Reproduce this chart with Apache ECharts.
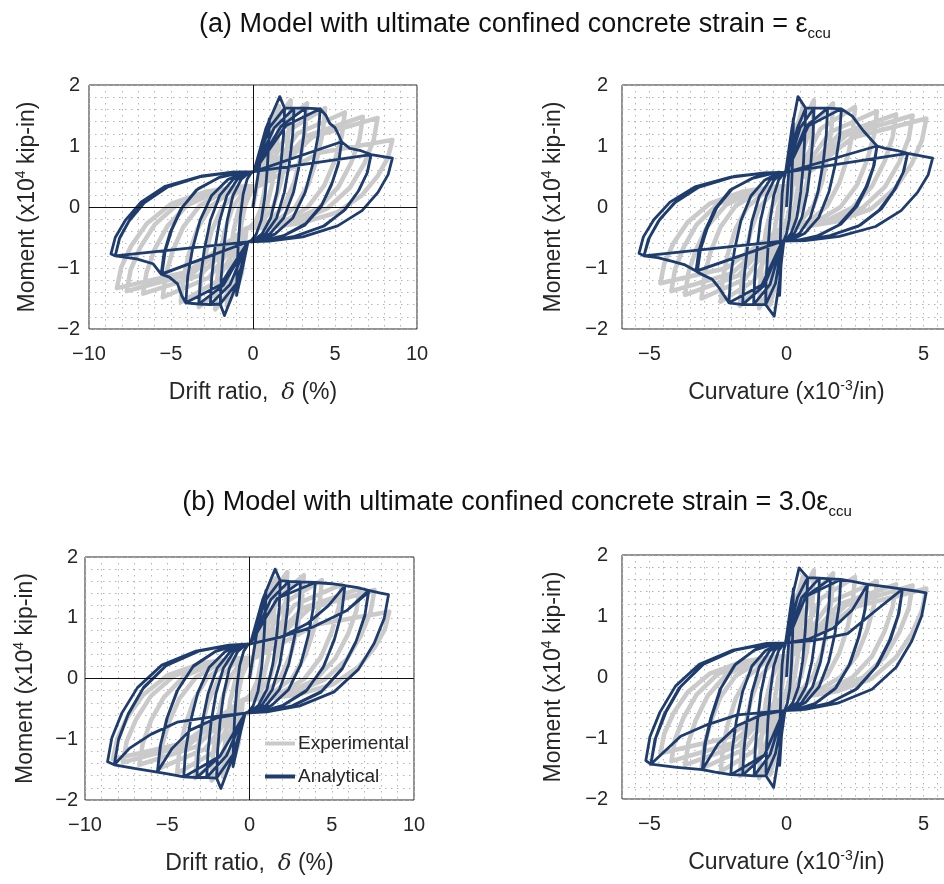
<!DOCTYPE html>
<html>
<head>
<meta charset="utf-8">
<script src="https://cdn.jsdelivr.net/npm/echarts@6/dist/echarts.min.js"></script>
<style>html,body{margin:0;background:#fff}#main{width:944px;height:884px}</style>
</head>
<body>
<div id="main"></div>
<script>
// tick labels
var driftTicks = [-10, -5, 0, 5, 10];
var curvTicks = [-5, 0, 5];
var momentTicks = [-2, -1, 0, 1, 2];

// experimental loops (same specimen in (a) and (b)) : [drift or curvature, moment]
var expDrift = [[0,0],[0.5,0.75],
[1.0,1.35],[0.96,1.01],[0.86,0.65],[0.71,0.28],[0.47,-0.04],[0.13,-0.25],[-0.19,-0.33],[-0.4,-0.35],
[-0.67,-1.07],[-1.0,-1.35],[-0.96,-1.01],[-0.86,-0.65],[-0.71,-0.28],[-0.47,0.04],[-0.13,0.25],[0.19,0.33],[0.4,0.35],
[0.94,1.29],[1.6,1.65],[1.54,1.25],[1.4,0.83],[1.18,0.39],[0.84,0.01],[0.36,-0.23],[-0.1,-0.33],[-0.4,-0.35],
[-0.94,-1.27],[-1.6,-1.62],[-1.54,-1.23],[-1.4,-0.81],[-1.18,-0.38],[-0.84,0.0],[-0.36,0.23],[0.1,0.33],[0.4,0.35],
[1.26,1.36],[2.3,1.75],[2.22,1.33],[2.03,0.89],[1.73,0.43],[1.27,0.03],[0.63,-0.22],[0.0,-0.33],[-0.4,-0.35],
[-1.26,-1.31],[-2.3,-1.68],[-2.22,-1.27],[-2.03,-0.85],[-1.73,-0.4],[-1.27,-0.02],[-0.63,0.23],[0.0,0.33],[0.4,0.35],
[1.71,1.32],[3.3,1.7],[3.19,1.29],[2.93,0.86],[2.52,0.41],[1.89,0.02],[1.01,-0.23],[0.16,-0.33],[-0.4,-0.35],
[-1.71,-1.28],[-3.3,-1.64],[-3.19,-1.24],[-2.93,-0.82],[-2.52,-0.39],[-1.89,-0.01],[-1.01,0.23],[-0.16,0.33],[0.4,0.35],
[2.2,1.26],[4.4,1.62],[4.26,1.23],[3.92,0.81],[3.39,0.38],[2.58,0.0],[1.42,-0.23],[0.32,-0.33],[-0.4,-0.35],
[-2.2,-1.22],[-4.4,-1.56],[-4.26,-1.18],[-3.92,-0.78],[-3.39,-0.36],[-2.58,0.01],[-1.42,0.24],[-0.32,0.33],[0.4,0.35],
[2.74,1.21],[5.6,1.55],[5.42,1.17],[5.0,0.77],[4.34,0.35],[3.32,-0.01],[1.88,-0.24],[0.5,-0.33],[-0.4,-0.35],
[-2.7,-1.16],[-5.5,-1.48],[-5.32,-1.11],[-4.91,-0.73],[-4.26,-0.33],[-3.26,0.02],[-1.84,0.24],[-0.49,0.33],[0.4,0.35],
[3.24,1.16],[6.7,1.48],[6.49,1.11],[5.99,0.73],[5.21,0.33],[4.0,-0.02],[2.3,-0.24],[0.67,-0.33],[-0.4,-0.35],
[-3.24,-1.12],[-6.7,-1.42],[-6.49,-1.07],[-5.99,-0.69],[-5.21,-0.31],[-4.0,0.03],[-2.3,0.24],[-0.67,0.33],[0.4,0.35],
[3.64,1.15],[7.6,1.46],[7.36,1.1],[6.8,0.72],[5.92,0.32],[4.56,-0.02],[2.64,-0.24],[0.8,-0.33],[-0.4,-0.35],
[-3.69,-1.09],[-7.7,-1.38],[-7.46,-1.03],[-6.89,-0.67],[-6.0,-0.29],[-4.62,0.04],[-2.68,0.25],[-0.82,0.33],[0.4,0.35],
[4.05,0.89],[8.5,1.1],[8.23,0.81],[7.61,0.51],[6.63,0.19],[5.12,-0.09],[2.98,-0.26],[0.94,-0.34],[-0.4,-0.35],
[-3.96,-1.06],[-8.3,-1.33],[-8.04,-0.99],[-7.43,-0.64],[-6.47,-0.27],[-5.0,0.05],[-2.91,0.25],[-0.9,0.33],[0.4,0.35]];

var expCurv = [[0,0],[0.15,0.75],
[0.3,1.35],[0.29,1.01],[0.25,0.65],[0.2,0.28],[0.11,-0.04],[-0.01,-0.25],[-0.13,-0.33],[-0.2,-0.35],
[-0.25,-1.07],[-0.3,-1.35],[-0.29,-1.01],[-0.25,-0.65],[-0.2,-0.28],[-0.11,0.04],[0.01,0.25],[0.13,0.33],[0.2,0.35],
[0.38,1.29],[0.6,1.65],[0.58,1.25],[0.52,0.83],[0.43,0.39],[0.3,0.01],[0.1,-0.23],[-0.08,-0.33],[-0.2,-0.35],
[-0.38,-1.25],[-0.6,-1.6],[-0.58,-1.21],[-0.52,-0.8],[-0.43,-0.37],[-0.3,0.0],[-0.1,0.23],[0.08,0.33],[0.2,0.35],
[0.56,1.36],[1.0,1.75],[0.96,1.33],[0.88,0.89],[0.75,0.43],[0.54,0.03],[0.26,-0.22],[-0.02,-0.33],[-0.2,-0.35],
[-0.56,-1.29],[-1.0,-1.66],[-0.96,-1.26],[-0.88,-0.84],[-0.75,-0.39],[-0.54,-0.01],[-0.26,0.23],[0.02,0.33],[0.2,0.35],
[0.88,1.32],[1.7,1.7],[1.64,1.29],[1.51,0.86],[1.3,0.41],[0.98,0.02],[0.52,-0.23],[0.09,-0.33],[-0.2,-0.35],
[-0.88,-1.26],[-1.7,-1.62],[-1.64,-1.23],[-1.51,-0.81],[-1.3,-0.38],[-0.98,0.0],[-0.52,0.23],[-0.09,0.33],[0.2,0.35],
[1.24,1.28],[2.5,1.64],[2.42,1.24],[2.23,0.82],[1.93,0.4],[1.47,0.01],[0.83,-0.23],[0.2,-0.33],[-0.2,-0.35],
[-1.19,-1.21],[-2.4,-1.55],[-2.32,-1.17],[-2.14,-0.77],[-1.85,-0.35],[-1.41,0.01],[-0.79,0.24],[-0.19,0.33],[0.2,0.35],
[1.6,1.23],[3.3,1.57],[3.2,1.19],[2.95,0.78],[2.57,0.36],[1.97,0.0],[1.13,-0.23],[0.33,-0.33],[-0.2,-0.35],
[-1.51,-1.18],[-3.1,-1.5],[-3.0,-1.13],[-2.77,-0.74],[-2.41,-0.33],[-1.85,0.02],[-1.05,0.24],[-0.3,0.33],[0.2,0.35],
[1.91,1.19],[4.0,1.52],[3.87,1.15],[3.58,0.75],[3.12,0.34],[2.4,-0.01],[1.4,-0.24],[0.43,-0.33],[-0.2,-0.35],
[-1.78,-1.13],[-3.7,-1.44],[-3.58,-1.08],[-3.31,-0.71],[-2.88,-0.31],[-2.22,0.03],[-1.28,0.24],[-0.39,0.33],[0.2,0.35],
[2.18,1.18],[4.6,1.5],[4.46,1.13],[4.12,0.74],[3.59,0.33],[2.78,-0.01],[1.62,-0.24],[0.52,-0.33],[-0.2,-0.35],
[-2.0,-1.09],[-4.2,-1.38],[-4.07,-1.03],[-3.76,-0.67],[-3.28,-0.29],[-2.53,0.04],[-1.47,0.25],[-0.46,0.33],[0.2,0.35],
[2.41,1.14],[5.1,1.45],[4.94,1.09],[4.57,0.71],[3.99,0.32],[3.09,-0.03],[1.81,-0.24],[0.6,-0.33],[-0.2,-0.35],
[-2.18,-1.0],[-4.6,-1.25],[-4.46,-0.93],[-4.12,-0.59],[-3.59,-0.24],[-2.78,0.06],[-1.62,0.25],[-0.52,0.33],[0.2,0.35]];

// analytical, model (a): ultimate strain = eps_ccu
var anaDriftA = [[0,0],[0.5,0.85],
[1.0,1.45],[0.96,1.05],[0.87,0.62],[0.73,0.18],[0.51,-0.21],[0.19,-0.45],[-0.11,-0.55],[-0.3,-0.57],
[-0.6,-0.95],[-1.0,-1.45],[-0.97,-1.04],[-0.9,-0.62],[-0.78,-0.17],[-0.6,0.21],[-0.35,0.46],[-0.11,0.56],[0.05,0.58],
[0.8,1.3],[1.63,1.81],[1.93,1.62],[1.86,1.18],[1.71,0.72],[1.46,0.24],[1.08,-0.18],[0.55,-0.44],[0.03,-0.55],[-0.3,-0.57],
[-0.9,-1.2],[-1.74,-1.78],[-2.0,-1.59],[-1.94,-1.16],[-1.8,-0.7],[-1.57,-0.22],[-1.22,0.19],[-0.73,0.45],[-0.26,0.56],[0.05,0.58],
[1.0,1.3],[1.93,1.62],[2.5,1.62],[2.42,1.18],[2.22,0.72],[1.91,0.24],[1.44,-0.18],[0.76,-0.44],[0.12,-0.55],[-0.3,-0.57],
[-1.0,-1.25],[-2.0,-1.59],[-2.6,-1.6],[-2.52,-1.16],[-2.34,-0.71],[-2.04,-0.23],[-1.59,0.19],[-0.96,0.45],[-0.35,0.56],[0.05,0.58],
[1.3,1.3],[2.5,1.62],[3.2,1.62],[3.1,1.18],[2.85,0.72],[2.47,0.24],[1.87,-0.18],[1.03,-0.44],[0.23,-0.55],[-0.3,-0.57],
[-1.4,-1.27],[-2.6,-1.6],[-3.3,-1.59],[-3.2,-1.16],[-2.97,-0.7],[-2.6,-0.22],[-2.03,0.19],[-1.22,0.45],[-0.45,0.56],[0.05,0.58],
[1.7,1.32],[3.2,1.62],[4.1,1.61],[3.97,1.17],[3.66,0.72],[3.18,0.24],[2.43,-0.18],[1.37,-0.44],[0.36,-0.55],[-0.3,-0.57],
[-1.8,-1.28],[-3.3,-1.59],[-4.1,-1.57],[-3.98,-1.14],[-3.69,-0.69],[-3.23,-0.22],[-2.52,0.19],[-1.53,0.45],[-0.57,0.56],[0.05,0.58],
[2.0,1.33],[4.1,1.61],[4.45,1.5],[4.68,1.37],[5.0,1.3],[5.19,1.2],[5.4,1.07],[5.23,0.74],[4.83,0.4],[4.2,0.04],[3.23,-0.27],[1.87,-0.47],[0.56,-0.55],[-0.3,-0.57],
[-2.0,-1.28],[-4.1,-1.57],[-4.35,-1.45],[-4.6,-1.26],[-5.1,-1.15],[-5.6,-1.1],[-5.43,-0.76],[-5.04,-0.41],[-4.41,-0.04],[-3.45,0.28],[-2.1,0.48],[-0.8,0.56],[0.05,0.58],
[5.4,1.07],[5.2,0.7],[4.78,0.36],[4.14,0.0],[3.15,-0.3],[1.8,-0.48],[0.5,-0.56],[-0.3,-0.57],
[-5.55,-1.1],[-5.36,-0.73],[-4.95,-0.37],[-4.3,0.0],[-3.35,0.3],[-2.0,0.49],[-0.75,0.57],[0.05,0.58],
[5.4,1.07],[5.9,0.96],[6.5,0.93],[7.2,0.86],[6.98,0.57],[6.45,0.27],[5.63,-0.04],[4.35,-0.31],[2.55,-0.48],[0.83,-0.56],[-0.3,-0.57],
[-5.6,-1.1],[-6.1,-0.93],[-7.1,-0.85],[-8.4,-0.8],[-8.15,-0.52],[-7.56,-0.23],[-6.63,0.07],[-5.19,0.33],[-3.16,0.5],[-1.22,0.57],[0.05,0.58],
[7.2,0.86],[6.95,0.55],[6.4,0.25],[5.55,-0.06],[4.25,-0.32],[2.45,-0.49],[0.75,-0.56],[-0.3,-0.57],
[-8.4,-0.8],[-8.12,-0.5],[-7.5,-0.2],[-6.55,0.1],[-5.1,0.35],[-3.1,0.51],[-1.2,0.57],[0.05,0.58],
[7.2,0.86],[8.5,0.8],[8.24,0.53],[7.62,0.24],[6.65,-0.06],[5.16,-0.31],[3.04,-0.49],[0.98,-0.56],[-0.3,-0.57],
[-8.4,-0.8],[-8.66,-0.77],[-8.4,-0.5],[-7.79,-0.22],[-6.83,0.08],[-5.35,0.34],[-3.26,0.5],[-1.26,0.57],[0.05,0.58]];

var anaCurvA = [[0,0],[0.12,0.85],
[0.25,1.45],[0.24,1.05],[0.21,0.63],[0.17,0.18],[0.1,-0.2],[0.0,-0.44],[-0.09,-0.54],[-0.15,-0.56],
[-0.2,-0.95],[-0.25,-1.45],[-0.24,-1.05],[-0.23,-0.62],[-0.2,-0.18],[-0.16,0.21],[-0.1,0.45],[-0.04,0.55],[0,0.57],
[0.2,1.3],[0.42,1.81],[0.7,1.62],[0.67,1.18],[0.62,0.73],[0.52,0.25],[0.38,-0.17],[0.17,-0.43],[-0.02,-0.54],[-0.15,-0.56],
[-0.25,-1.2],[-0.45,-1.79],[-0.76,-1.6],[-0.74,-1.17],[-0.68,-0.71],[-0.6,-0.23],[-0.47,0.18],[-0.29,0.44],[-0.11,0.55],[0,0.57],
[0.4,1.3],[0.7,1.62],[1.0,1.62],[0.97,1.18],[0.89,0.73],[0.76,0.25],[0.56,-0.17],[0.29,-0.43],[0.02,-0.54],[-0.15,-0.56],
[-0.4,-1.25],[-0.76,-1.6],[-1.2,-1.6],[-1.16,-1.17],[-1.08,-0.71],[-0.95,-0.23],[-0.74,0.18],[-0.46,0.44],[-0.18,0.55],[0,0.57],
[0.5,1.3],[1.0,1.62],[1.5,1.62],[1.45,1.18],[1.34,0.73],[1.15,0.25],[0.87,-0.17],[0.48,-0.43],[0.1,-0.54],[-0.15,-0.56],
[-0.6,-1.27],[-1.2,-1.6],[-1.6,-1.6],[-1.55,-1.17],[-1.44,-0.71],[-1.26,-0.23],[-0.99,0.18],[-0.61,0.44],[-0.24,0.55],[0,0.57],
[0.7,1.32],[1.5,1.62],[2.0,1.61],[1.94,1.17],[1.79,0.72],[1.55,0.25],[1.18,-0.17],[0.67,-0.43],[0.17,-0.54],[-0.15,-0.56],
[-0.8,-1.28],[-1.6,-1.6],[-2.1,-1.57],[-2.04,-1.14],[-1.89,-0.69],[-1.66,-0.22],[-1.3,0.18],[-0.8,0.44],[-0.32,0.55],[0,0.57],
[0.8,1.33],[2.0,1.61],[2.4,1.49],[2.8,1.25],[3.1,1.1],[3.3,1.0],[3.2,0.69],[2.96,0.36],[2.58,0.02],[1.99,-0.28],[1.16,-0.47],[0.37,-0.55],[-0.15,-0.56],
[-0.9,-1.28],[-2.1,-1.57],[-2.5,-1.3],[-2.7,-1.19],[-3.2,-1.08],[-3.3,-1.05],[-3.2,-0.73],[-2.97,-0.39],[-2.61,-0.03],[-2.05,0.28],[-1.25,0.47],[-0.5,0.55],[0,0.57],
[3.3,1.0],[3.17,0.66],[2.9,0.33],[2.5,0.0],[1.9,-0.3],[1.1,-0.48],[0.33,-0.55],[-0.15,-0.56],
[-3.25,-1.05],[-3.14,-0.7],[-2.9,-0.36],[-2.53,0.0],[-1.97,0.3],[-1.2,0.48],[-0.47,0.56],[0,0.57],
[3.3,1.0],[3.6,0.96],[4.0,0.93],[4.42,0.88],[4.28,0.59],[3.96,0.29],[3.46,-0.03],[2.68,-0.3],[1.59,-0.47],[0.54,-0.55],[-0.15,-0.56],
[-3.3,-1.05],[-3.7,-0.95],[-4.16,-0.89],[-4.7,-0.83],[-5.2,-0.8],[-5.04,-0.53],[-4.68,-0.24],[-4.11,0.06],[-3.22,0.32],[-1.98,0.49],[-0.78,0.56],[0,0.57],
[4.42,0.88],[4.25,0.56],[3.9,0.26],[3.38,-0.05],[2.6,-0.32],[1.52,-0.48],[0.5,-0.55],[-0.15,-0.56],
[-5.2,-0.8],[-5.0,-0.5],[-4.62,-0.2],[-4.03,0.09],[-3.15,0.34],[-1.93,0.5],[-0.75,0.56],[0,0.57],
[4.42,0.88],[5.33,0.8],[5.17,0.53],[4.78,0.24],[4.18,-0.06],[3.25,-0.32],[1.93,-0.48],[0.67,-0.55],[-0.15,-0.56],
[-5.2,-0.8],[-5.38,-0.76],[-5.22,-0.49],[-4.84,-0.21],[-4.25,0.08],[-3.34,0.33],[-2.04,0.49],[-0.81,0.56],[0,0.57]];

// analytical, model (b): ultimate strain = 3.0 eps_ccu
var anaDriftB = [[0,0],[0.5,0.85],
[1.0,1.45],[0.96,1.05],[0.87,0.62],[0.74,0.18],[0.52,-0.21],[0.22,-0.45],[-0.07,-0.55],[-0.26,-0.57],
[-0.6,-0.95],[-1.0,-1.45],[-0.97,-1.05],[-0.9,-0.62],[-0.78,-0.18],[-0.6,0.21],[-0.35,0.45],[-0.11,0.55],[0.05,0.57],
[0.8,1.3],[1.56,1.8],[1.87,1.61],[1.81,1.17],[1.66,0.72],[1.42,0.24],[1.06,-0.18],[0.55,-0.44],[0.06,-0.55],[-0.26,-0.57],
[-0.9,-1.2],[-1.74,-1.81],[-2.0,-1.64],[-1.94,-1.2],[-1.8,-0.73],[-1.57,-0.25],[-1.22,0.17],[-0.73,0.44],[-0.26,0.55],[0.05,0.57],
[1.0,1.3],[1.87,1.61],[2.4,1.6],[2.32,1.17],[2.13,0.72],[1.84,0.24],[1.39,-0.18],[0.75,-0.44],[0.14,-0.55],[-0.26,-0.57],
[-1.0,-1.25],[-2.0,-1.64],[-2.6,-1.63],[-2.52,-1.2],[-2.34,-0.73],[-2.04,-0.25],[-1.59,0.17],[-0.96,0.44],[-0.35,0.55],[0.05,0.57],
[1.3,1.3],[2.4,1.6],[3.1,1.59],[3.0,1.16],[2.76,0.71],[2.39,0.24],[1.82,-0.18],[1.02,-0.44],[0.24,-0.55],[-0.26,-0.57],
[-1.4,-1.27],[-2.6,-1.63],[-3.2,-1.63],[-3.1,-1.2],[-2.88,-0.73],[-2.52,-0.25],[-1.97,0.17],[-1.18,0.44],[-0.44,0.55],[0.05,0.57],
[1.7,1.32],[3.1,1.59],[4.0,1.58],[3.87,1.15],[3.57,0.7],[3.11,0.23],[2.38,-0.18],[1.36,-0.44],[0.38,-0.55],[-0.26,-0.57],
[-1.8,-1.28],[-3.2,-1.63],[-4.0,-1.62],[-3.88,-1.18],[-3.6,-0.72],[-3.15,-0.24],[-2.46,0.18],[-1.49,0.44],[-0.56,0.55],[0.05,0.57],
[1.7,1.32],[4.0,1.58],[5.0,1.56],[5.8,1.53],[5.62,1.11],[5.19,0.67],[4.53,0.21],[3.5,-0.19],[2.04,-0.44],[0.65,-0.55],[-0.26,-0.57],
[-1.8,-1.28],[-4.0,-1.62],[-4.8,-1.58],[-5.6,-1.54],[-5.43,-1.12],[-5.04,-0.67],[-4.41,-0.21],[-3.45,0.19],[-2.1,0.44],[-0.8,0.55],[0.05,0.57],
[1.9,0.68],[3.5,0.9],[4.8,1.2],[5.8,1.53],[5.6,1.08],[5.15,0.63],[4.47,0.18],[3.43,-0.21],[2.0,-0.45],[0.62,-0.55],[-0.26,-0.57],
[-2.0,-0.65],[-3.6,-0.85],[-4.7,-1.15],[-5.6,-1.54],[-5.4,-1.08],[-4.98,-0.63],[-4.35,-0.18],[-3.4,0.21],[-2.05,0.45],[-0.77,0.55],[0.05,0.57],
[1.9,0.68],[3.5,0.9],[4.8,1.2],[5.8,1.53],[6.5,1.5],[7.24,1.45],[7.02,1.05],[6.49,0.62],[5.67,0.18],[4.39,-0.21],[2.59,-0.45],[0.87,-0.55],[-0.26,-0.57],
[-2.0,-0.65],[-3.6,-0.85],[-4.7,-1.15],[-5.6,-1.54],[-7.0,-1.48],[-8.22,-1.42],[-7.97,-1.02],[-7.39,-0.6],[-6.48,-0.17],[-5.08,0.21],[-3.09,0.45],[-1.19,0.55],[0.05,0.57],
[1.87,0.68],[3.89,0.85],[5.92,1.12],[7.24,1.42],[7.0,1.02],[6.45,0.59],[5.62,0.15],[4.33,-0.23],[2.53,-0.46],[0.84,-0.55],[-0.26,-0.57],
[-2.3,-0.63],[-4.4,-0.72],[-6.0,-0.92],[-7.3,-1.15],[-8.22,-1.42],[-7.95,-0.99],[-7.35,-0.57],[-6.42,-0.14],[-5.0,0.23],[-3.03,0.46],[-1.15,0.55],[0.05,0.57],
[1.87,0.68],[3.89,0.85],[5.92,1.12],[7.24,1.45],[7.9,1.41],[8.45,1.38],[8.19,0.99],[7.58,0.58],[6.62,0.15],[5.14,-0.22],[3.05,-0.45],[1.05,-0.55],[-0.26,-0.57],
[-2.3,-0.63],[-4.4,-0.72],[-6.0,-0.92],[-7.3,-1.15],[-8.22,-1.42],[-8.63,-1.37],[-8.37,-0.98],[-7.76,-0.57],[-6.81,-0.15],[-5.33,0.22],[-3.25,0.45],[-1.25,0.55],[0.05,0.57]];

var anaCurvB = [[0,0],[0.12,0.85],
[0.25,1.45],[0.24,1.05],[0.22,0.63],[0.18,0.19],[0.12,-0.19],[0.03,-0.43],[-0.05,-0.53],[-0.1,-0.55],
[-0.18,-0.95],[-0.25,-1.45],[-0.24,-1.05],[-0.23,-0.63],[-0.2,-0.18],[-0.16,0.2],[-0.1,0.44],[-0.04,0.54],[0,0.56],
[0.2,1.3],[0.46,1.79],[0.77,1.63],[0.74,1.19],[0.68,0.74],[0.59,0.26],[0.44,-0.16],[0.23,-0.42],[0.03,-0.53],[-0.1,-0.55],
[-0.25,-1.2],[-0.47,-1.81],[-0.75,-1.62],[-0.73,-1.18],[-0.68,-0.73],[-0.59,-0.25],[-0.47,0.17],[-0.29,0.43],[-0.11,0.54],[0,0.56],
[0.4,1.3],[0.77,1.63],[1.2,1.62],[1.16,1.18],[1.07,0.73],[0.93,0.26],[0.71,-0.16],[0.39,-0.42],[0.1,-0.53],[-0.1,-0.55],
[-0.4,-1.25],[-0.75,-1.62],[-1.18,-1.62],[-1.14,-1.18],[-1.06,-0.73],[-0.93,-0.25],[-0.73,0.17],[-0.45,0.43],[-0.18,0.54],[0,0.56],
[0.55,1.3],[1.2,1.62],[1.6,1.61],[1.55,1.18],[1.43,0.73],[1.24,0.25],[0.95,-0.16],[0.55,-0.42],[0.16,-0.53],[-0.1,-0.55],
[-0.6,-1.27],[-1.18,-1.62],[-1.6,-1.61],[-1.55,-1.18],[-1.44,-0.73],[-1.26,-0.25],[-0.99,0.17],[-0.61,0.43],[-0.24,0.54],[0,0.56],
[0.7,1.32],[1.6,1.61],[1.98,1.6],[1.92,1.17],[1.77,0.72],[1.54,0.25],[1.19,-0.16],[0.69,-0.42],[0.21,-0.53],[-0.1,-0.55],
[-0.8,-1.28],[-1.6,-1.61],[-2.03,-1.6],[-1.97,-1.17],[-1.83,-0.72],[-1.6,-0.24],[-1.26,0.18],[-0.77,0.43],[-0.3,0.54],[0,0.56],
[0.7,1.32],[1.98,1.6],[2.5,1.56],[2.96,1.52],[2.87,1.11],[2.65,0.67],[2.32,0.22],[1.8,-0.18],[1.06,-0.43],[0.36,-0.53],[-0.1,-0.55],
[-0.8,-1.28],[-2.03,-1.6],[-2.6,-1.56],[-3.07,-1.52],[-2.98,-1.1],[-2.76,-0.67],[-2.43,-0.21],[-1.9,0.19],[-1.17,0.44],[-0.46,0.54],[0,0.56],
[0.8,0.62],[1.7,0.8],[2.4,1.1],[2.96,1.52],[2.85,1.08],[2.62,0.64],[2.28,0.19],[1.76,-0.2],[1.03,-0.44],[0.34,-0.54],[-0.1,-0.55],
[-0.9,-0.62],[-1.8,-0.8],[-2.5,-1.1],[-3.07,-1.52],[-2.95,-1.07],[-2.72,-0.64],[-2.39,-0.18],[-1.86,0.21],[-1.14,0.45],[-0.44,0.55],[0,0.56],
[0.8,0.62],[1.7,0.8],[2.4,1.1],[2.96,1.52],[3.6,1.48],[4.23,1.44],[4.1,1.04],[3.8,0.62],[3.32,0.19],[2.58,-0.19],[1.55,-0.43],[0.55,-0.53],[-0.1,-0.55],
[-0.9,-0.62],[-1.8,-0.8],[-2.5,-1.1],[-3.07,-1.52],[-4.0,-1.48],[-4.95,-1.43],[-4.8,-1.03],[-4.46,-0.61],[-3.91,-0.18],[-3.07,0.2],[-1.88,0.44],[-0.74,0.54],[0,0.56],
[1.0,0.6],[2.23,0.71],[3.2,1.07],[4.23,1.44],[4.07,1.01],[3.75,0.59],[3.26,0.16],[2.52,-0.21],[1.5,-0.44],[0.52,-0.54],[-0.1,-0.55],
[-1.79,-0.62],[-2.88,-0.78],[-3.86,-0.97],[-4.95,-1.43],[-4.77,-1.0],[-4.4,-0.58],[-3.85,-0.15],[-3.0,0.22],[-1.84,0.45],[-0.72,0.55],[0,0.56],
[1.0,0.6],[2.23,0.71],[3.2,1.07],[4.23,1.44],[4.7,1.41],[5.09,1.38],[4.93,1.0],[4.57,0.59],[4.0,0.16],[3.12,-0.2],[1.87,-0.43],[0.68,-0.53],[-0.1,-0.55],
[-1.79,-0.62],[-2.88,-0.78],[-3.86,-0.97],[-4.95,-1.43],[-5.13,-1.37],[-4.98,-0.98],[-4.62,-0.58],[-4.05,-0.15],[-3.18,0.21],[-1.95,0.44],[-0.77,0.54],[0,0.56]];

(function () {
    var myChart = echarts.init(document.getElementById('main'));

    var font = 'Liberation Sans, Arial, sans-serif';
    var ink = '#262626';
    var navy = '#1e3c6e';
    var grey = '#cacaca';
    var dots = { color: '#b4b4b4', type: [1.5, 4.5], width: 1 };

    // show a label only on the major values
    function major(list) {
        return function (v) {
            var r = Math.round(v);
            if (Math.abs(v - r) > 1e-6 || list.indexOf(r) < 0) return '';
            return r < 0 ? '\u2212' + (-r) : String(r);
        };
    }

    var nameStyle = {
        color: ink, fontSize: 23, fontFamily: font, lineHeight: 28,
        rich: {
            sup: { color: ink, fontSize: 14, fontFamily: font, lineHeight: 14, verticalAlign: 'top' },
            it: { color: ink, fontSize: 23, fontFamily: 'DejaVu Serif', fontStyle: 'italic', lineHeight: 28 }
        }
    };

    function xAx(g, min, max, step, ticks, name) {
        return {
            type: 'value', gridIndex: g, min: min, max: max, interval: step,
            axisLine: { show: false }, axisTick: { show: false },
            axisLabel: { formatter: major(ticks), color: ink, fontSize: 20, fontFamily: font, margin: 15 },
            splitLine: { show: true, lineStyle: dots },
            name: name, nameLocation: 'middle', nameGap: 50, nameTextStyle: nameStyle
        };
    }

    function yAx(g, margin, gap) {
        return {
            type: 'value', gridIndex: g, min: -2, max: 2, interval: 0.2,
            axisLine: { show: false }, axisTick: { show: false },
            axisLabel: { formatter: major(momentTicks), color: ink, fontSize: 20, fontFamily: font, margin: margin },
            splitLine: { show: true, lineStyle: dots },
            name: 'Moment (x10{sup|4} kip-in)', nameLocation: 'middle', nameGap: gap, nameRotate: 90,
            nameTextStyle: nameStyle
        };
    }

    var box = { show: true, borderColor: ink, borderWidth: 1, backgroundColor: 'transparent', outerBoundsMode: 'none', containLabel: false };

    var zeroLines = {
        silent: true, symbol: 'none', animation: false,
        label: { show: false },
        lineStyle: { color: '#111', width: 1, type: 'solid' },
        data: [{ xAxis: 0 }, { yAxis: 0 }]
    };

    function line(name, g, data, color, width, mark) {
        var s = {
            type: 'line', name: name, xAxisIndex: g, yAxisIndex: g, data: data,
            symbol: 'none', showSymbol: false, clip: true, animation: false,
            lineStyle: { color: color, width: width, join: 'round' },
            itemStyle: { color: color }
        };
        if (mark) s.markLine = zeroLines;
        return s;
    }

    var titleStyle = {
        fontSize: 27, fontWeight: 'normal', color: '#111', fontFamily: font, lineHeight: 32,
        rich: { sub: { fontSize: 15, color: '#111', fontFamily: font, lineHeight: 12, verticalAlign: 'bottom' } }
    };

    option = {
        backgroundColor: '#fff',
        animation: false,
        title: [
            { text: '(a) Model with ultimate confined concrete strain = \u03b5{sub|ccu}', left: 510, top: 4, textAlign: 'center', textStyle: titleStyle },
            { text: '(b) Model with ultimate confined concrete strain = 3.0\u03b5{sub|ccu}', left: 512, top: 482, textAlign: 'center', textStyle: titleStyle }
        ],
        legend: {
            data: [
                { name: 'Experimental', icon: 'rect', itemStyle: { color: grey } },
                { name: 'Analytical', icon: 'rect', itemStyle: { color: navy } }
            ],
            orient: 'vertical', left: 260, top: 729,
            itemWidth: 30, itemHeight: 4, itemGap: 14,
            textStyle: { color: ink, fontSize: 19, fontFamily: font, padding: [0, 0, 0, -2] }
        },
        grid: [
            Object.assign({ left: 89, top: 85, width: 328, height: 244 }, box),
            Object.assign({ left: 622, top: 85, width: 329, height: 244 }, box),
            Object.assign({ left: 85, top: 557, width: 329, height: 243 }, box),
            Object.assign({ left: 622, top: 555, width: 329, height: 244 }, box)
        ],
        xAxis: [
            xAx(0, -10, 10, 1, driftTicks, 'Drift ratio,  {it|\u03b4} (%)'),
            xAx(1, -6, 6, 0.5, curvTicks, 'Curvature (x10{sup|-3}/in)'),
            xAx(2, -10, 10, 1, driftTicks, 'Drift ratio,  {it|\u03b4} (%)'),
            xAx(3, -6, 6, 0.5, curvTicks, 'Curvature (x10{sup|-3}/in)')
        ],
        yAxis: [yAx(0, 9, 47), yAx(1, 14, 54), yAx(2, 7, 45), yAx(3, 14, 54)],
        series: [
            line('Experimental', 0, expDrift, grey, 4.5, true),
            line('Experimental', 1, expCurv, grey, 4.5, false),
            line('Experimental', 2, expDrift, grey, 4.5, true),
            line('Experimental', 3, expCurv, grey, 4.5, false),
            line('Analytical', 0, anaDriftA, navy, 2.8, false),
            line('Analytical', 1, anaCurvA, navy, 2.8, false),
            line('Analytical', 2, anaDriftB, navy, 2.8, false),
            line('Analytical', 3, anaCurvB, navy, 2.8, false)
        ]
    };

    myChart.setOption(option);

    window.addEventListener('resize', function () {
        myChart.resize();
    })
})()
</script>
</body>
</html>
